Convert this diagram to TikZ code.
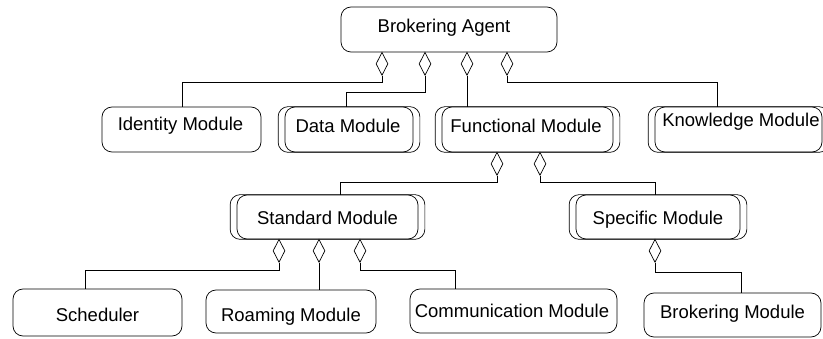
\documentclass[tikz,border=0pt]{standalone}
\usepackage{fontspec}
\setmainfont{Liberation Sans}
\usetikzlibrary{shapes.geometric}
\tikzset{
  box/.style={draw, rectangle, rounded corners=10pt, inner sep=0pt, line width=0.7pt},
  outerbox/.style={draw, rounded corners=10pt, line width=0.7pt},
  lbl/.style={inner sep=0pt, anchor=base, font=\fontsize{18.5}{22}\selectfont},
  dia/.style={draw, diamond, fill=white, inner sep=0pt, minimum width=12pt,
    minimum height=23pt, anchor=north, line width=0.7pt},
  link/.style={draw, line width=0.7pt},
}
\newcommand{\multiframe}[1]{%
  \draw[outerbox] ([xshift=-6.5pt]#1.north west) rectangle ([xshift=6.5pt]#1.south east);}
\begin{document}
\begin{tikzpicture}[x=1pt, y=-1pt]
\useasboundingbox (0,0) rectangle (823,339);
\clip (0,0) rectangle (823,339);

% top level
\node[box, minimum width=216pt, minimum height=45pt] (ba) at (449,29.5) {};
\node[lbl] (ba-t) at (444,33) {Brokering Agent};

% second row
\node[box, minimum width=159pt, minimum height=45pt] (idm) at (181.5,129.5) {};
\node[lbl] (idm-t) at (180.5,131) {Identity Module};
\node[box, minimum width=128pt, minimum height=45pt] (dm) at (349,129.5) {};
\multiframe{dm}
\node[lbl] (dm-t) at (348,133) {Data Module};
\node[box, minimum width=171pt, minimum height=45pt] (fm) at (527.5,129.5) {};
\multiframe{fm}
\node[lbl] (fm-t) at (526,133) {Functional Module};
\node[box, minimum width=167pt, minimum height=45pt] (km) at (738.5,129.5) {};
\multiframe{km}
\node[lbl] (km-t) at (741,127) {Knowledge Module};

% third row
\node[box, minimum width=181pt, minimum height=44pt] (sm) at (327.5,217) {};
\multiframe{sm}
\node[lbl] (sm-t) at (327.5,225) {Standard Module};
\node[box, minimum width=164pt, minimum height=44pt] (spm) at (658,217) {};
\multiframe{spm}
\node[lbl] (spm-t) at (658,225) {Specific Module};

% bottom row
\node[box, minimum width=169pt, minimum height=47pt] (sch) at (97.5,312.5) {};
\node[lbl] (sch-t) at (97.5,322) {Scheduler};
\node[box, minimum width=170pt, minimum height=43pt] (rm) at (291,311.5) {};
\node[lbl] (rm-t) at (291,322) {Roaming Module};
\node[box, minimum width=207pt, minimum height=44pt] (cm) at (513.5,311) {};
\node[lbl] (cm-t) at (512,318) {Communication Module};
\node[box, minimum width=177pt, minimum height=44pt] (bm) at (732.5,315) {};
\node[lbl] (bm-t) at (732.5,319) {Brokering Module};

% aggregation diamonds
\node[dia] (a1) at (382,52) {};
\node[dia] (a2) at (425,52) {};
\node[dia] (a3) at (467,52) {};
\node[dia] (a4) at (507,52) {};
\node[dia] (f1) at (497,152) {};
\node[dia] (f2) at (540,152) {};
\node[dia] (s1) at (279,239) {};
\node[dia] (s2) at (319,239) {};
\node[dia] (s3) at (360,239) {};
\node[dia] (p1) at (655,239) {};

% connectors
\draw[link] (a1.south) -- ++(0,7) -| ([xshift=0.5pt]idm.north);
\draw[link] (a2.south) -- ++(0,17) -| ([xshift=-3pt]dm.north);
\draw[link] (a3.south) -- (a3.south |- fm.north);
\draw[link] (a4.south) -- ++(0,7) -| ([xshift=-21.5pt]km.north);
\draw[link] (f1.south) -- ++(0,7) -| ([xshift=12.5pt]sm.north);
\draw[link] (f2.south) -- ++(0,7) -| ([xshift=-3pt]spm.north);
\draw[link] (s1.south) -- ++(0,8) -| ([xshift=-12.5pt]sch.north);
\draw[link] (s2.south) -- (s2.south |- rm.north);
\draw[link] (s3.south) -- ++(0,8) -| ([xshift=-58.5pt]cm.north);
\draw[link] (p1.south) -- ++(0,10) -| ([xshift=8.5pt]bm.north);
\end{tikzpicture}
\end{document}
